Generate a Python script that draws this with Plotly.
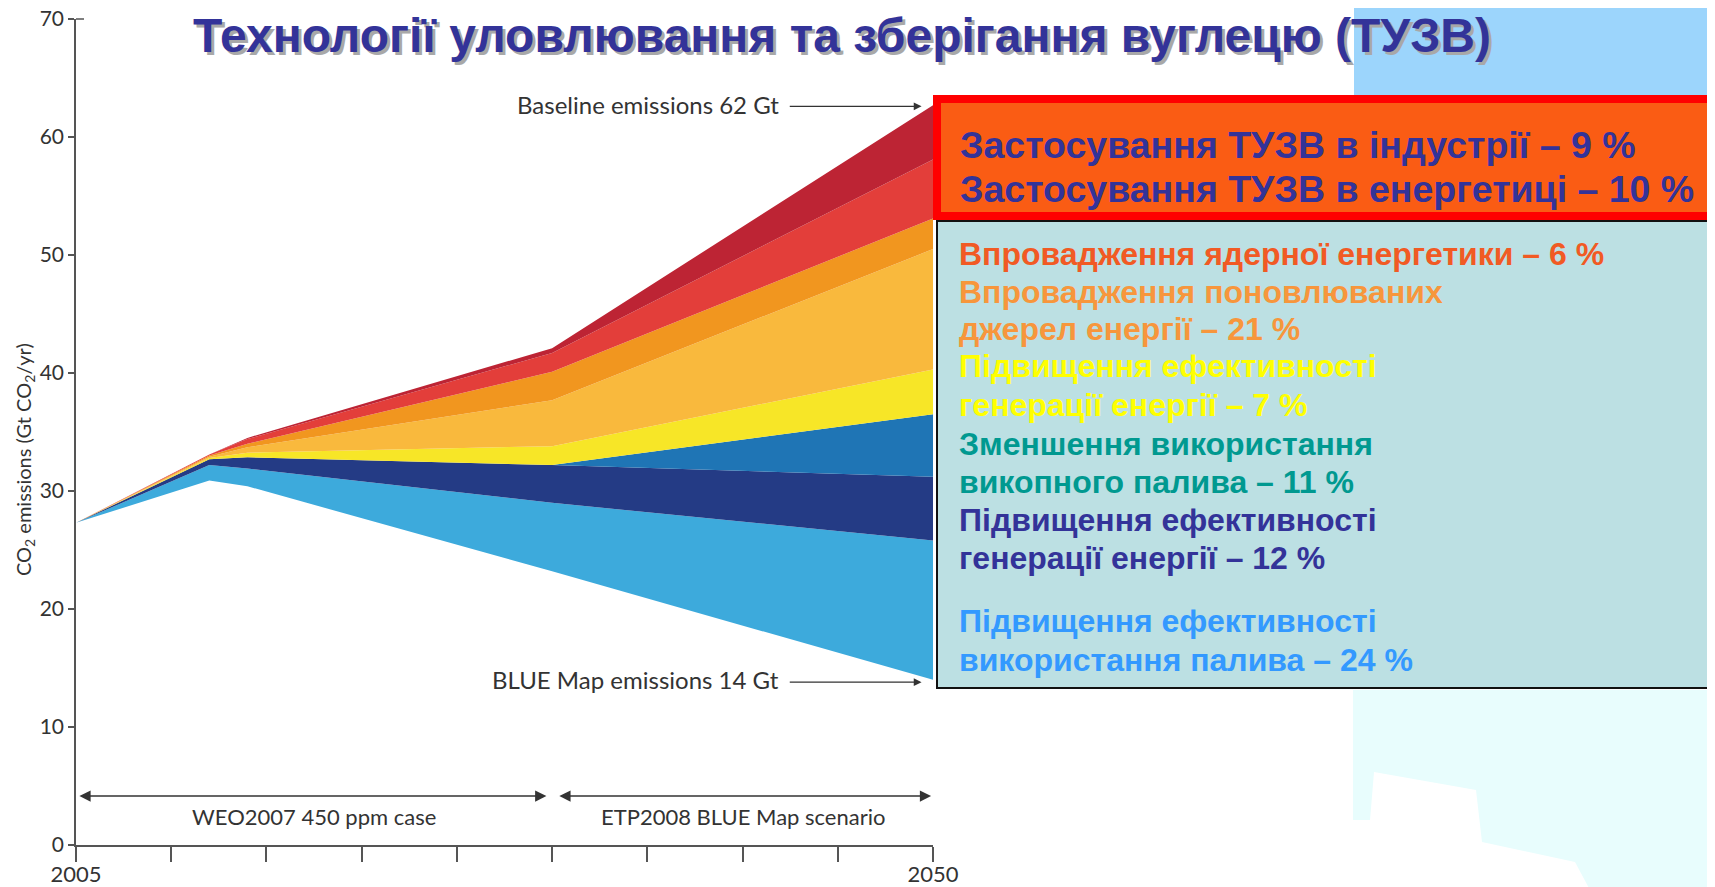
import plotly.graph_objects as go

# ---------------- data ----------------
years = [2005, 2012, 2014, 2030, 2050]
blue_map_emissions = [27.3, 30.9, 30.4, 23.2, 14.0]          # bottom line (Gt CO2/yr)
# wedge thicknesses (Gt CO2/yr), stacked from bottom to top
end_use_fuel_eff = [0.0, 1.3, 1.5, 5.8, 11.8]     # light blue 24 %
end_use_elec_eff = [0.0, 0.5, 0.95, 3.2, 5.4]     # navy 12 %
end_use_fuel_switch = [0.0, 0.0, 0.0, 0.0, 5.3]   # mid blue 11 %
power_gen_eff = [0.0, 0.1, 0.4, 1.6, 3.8]         # yellow 7 %
renewables = [0.0, 0.1, 0.45, 3.9, 10.2]          # light orange 21 %
nuclear = [0.0, 0.1, 0.3, 2.4, 2.6]               # orange 6 %
ccs_power = [0.0, 0.1, 0.4, 1.6, 5.0]             # red 10 %
ccs_industry = [0.0, 0.0, 0.1, 0.4, 4.6]          # dark red 9 %

wedge_names = ["Fuel efficiency", "Electricity efficiency", "Fuel switching",
               "Power generation efficiency", "Renewables", "Nuclear",
               "CCS power", "CCS industry"]
wedge_values = [end_use_fuel_eff, end_use_elec_eff, end_use_fuel_switch, power_gen_eff,
                renewables, nuclear, ccs_power, ccs_industry]
wedge_colors = ["#3DAADC", "#243B85", "#1F75B5", "#F7E627",
                "#F9B93D", "#F1961F", "#E33E3A", "#BD2434"]

x_tickvals = [2005, 2010, 2015, 2020, 2025, 2030, 2035, 2040, 2045, 2050]
x_ticktext = ["2005", "", "", "", "", "", "", "", "", "2050"]
y_tickvals = [0, 10, 20, 30, 40, 50, 60, 70]

title_text = "Технології уловлювання та зберігання вуглецю (ТУЗВ)"
ccs_lines = ["Застосування ТУЗВ в індустрії – 9 %",
             "Застосування ТУЗВ в енергетиці – 10 %"]
legend_lines = ["Впровадження ядерної енергетики – 6 %",
                "Впровадження поновлюваних",
                "джерел енергії – 21 %",
                "Підвищення ефективності",
                "генерації енергії – 7 %",
                "Зменшення використання",
                "викопного палива – 11 %",
                "Підвищення ефективності",
                "генерації енергії – 12 %",
                "Підвищення ефективності",
                "використання палива – 24 %"]
legend_colors = ["#F15A24", "#F7963C", "#F7963C", "#FFFF00", "#FFFF00",
                 "#009990", "#009990", "#333399", "#333399", "#3399FF", "#3399FF"]
legend_y_px = [254, 292, 329, 366, 405, 444, 482, 520, 558, 621, 660]

# ---------------- figure ----------------
# page has an 8px body margin: figure is drawn at (8, 8)
OFF = 8
W, H = 1715 - OFF, 887 - OFF
# plot area in page pixels
L, R, T, B = 76, 933, 19, 845


def px(x):
    return (x - L) / (R - L)


def py(y):
    return (B - y) / (B - T)


def path(points):
    s = " L ".join(f"{px(a)},{py(b)}" for a, b in points)
    return "M " + s + " Z"


fig = go.Figure()
fig.add_trace(go.Scatter(x=years, y=blue_map_emissions, stackgroup="s", mode="lines",
                         line=dict(width=0), fillcolor="rgba(0,0,0,0)",
                         hoverinfo="skip", showlegend=False))
for name, vals, col in zip(wedge_names, wedge_values, wedge_colors):
    fig.add_trace(go.Scatter(x=years, y=vals, stackgroup="s", mode="lines", name=name,
                             line=dict(width=0, color=col), fillcolor=col,
                             hoverinfo="skip", showlegend=False))

axis_font = dict(family="Lato, Roboto, sans-serif", size=22, color="#333333")
ytick_font = dict(family="Lato, Roboto, sans-serif", size=21, color="#333333")
label_font = dict(family="Lato, Roboto, sans-serif", size=24, color="#333333")

shapes = []
# light blue decoration at top-right
shapes.append(dict(type="rect", xref="paper", yref="paper", x0=px(1354), x1=px(1720),
                   y0=py(96), y1=py(0), fillcolor="#9CD5FC", line=dict(width=0), layer="below"))
# faint cyan decoration at bottom-right
shapes.append(dict(type="path", xref="paper", yref="paper",
                   path=path([(1353, 690), (1720, 690), (1720, 890), (1590, 890), (1575, 862),
                              (1482, 842), (1476, 790), (1374, 772), (1370, 820), (1353, 820)]),
                   fillcolor="#E8FDFD", line=dict(width=0), layer="below"))
# orange CCS box with red border
shapes.append(dict(type="rect", xref="paper", yref="paper", x0=px(933), x1=px(1720),
                   y0=py(220), y1=py(95), fillcolor="#FF0000", line=dict(width=0)))
shapes.append(dict(type="rect", xref="paper", yref="paper", x0=px(941), x1=px(1720),
                   y0=py(212), y1=py(103), fillcolor="#FA5C14", line=dict(width=0)))
# teal legend box
shapes.append(dict(type="rect", xref="paper", yref="paper", x0=px(937), x1=px(1722),
                   y0=py(688), y1=py(221), fillcolor="#BCE0E3",
                   line=dict(width=2, color="#111111")))
# small top tick on y axis
shapes.append(dict(type="line", xref="paper", yref="paper", x0=px(L), x1=px(L + 8),
                   y0=1, y1=1, line=dict(width=1.5, color="#555555")))

annotations = []
# title with shadow
for dx, dy, col in [(3, -3, "#A8A8A8"), (0, 0, "#333399")]:
    annotations.append(dict(text=f"<b>{title_text}</b>", xref="paper", yref="paper",
                            x=px(842), y=py(36), xanchor="center", yanchor="middle",
                            showarrow=False, xshift=dx, yshift=dy,
                            font=dict(family="Liberation Sans, Arial, sans-serif", size=48, color=col)))
# CCS box text
for line, ypx in zip(ccs_lines, [145, 189]):
    annotations.append(dict(text=f"<b>{line}</b>", xref="paper", yref="paper",
                            x=px(958), y=py(ypx), xanchor="left", yanchor="middle",
                            showarrow=False,
                            font=dict(family="Liberation Sans, Arial, sans-serif", size=37.5, color="#333399")))
# legend box text
for line, col, ypx in zip(legend_lines, legend_colors, legend_y_px):
    annotations.append(dict(text=f"<b>{line}</b>", xref="paper", yref="paper",
                            x=px(957), y=py(ypx), xanchor="left", yanchor="middle",
                            showarrow=False,
                            font=dict(family="Liberation Sans, Arial, sans-serif", size=32, color=col)))

# chart labels with arrows
annotations.append(dict(text="Baseline emissions 62 Gt", x=2042.0, y=62.75, xref="x", yref="y",
                        xanchor="right", yanchor="middle", showarrow=False, font=label_font))
annotations.append(dict(text="", x=2049.4, y=62.6, ax=2042.4, ay=62.6, xref="x", yref="y",
                        axref="x", ayref="y", showarrow=True, arrowhead=2, arrowsize=1.2,
                        arrowwidth=1.3, arrowcolor="#333333"))
annotations.append(dict(text="BLUE Map emissions 14 Gt", x=2042.0, y=14.0, xref="x", yref="y",
                        xanchor="right", yanchor="middle", showarrow=False, font=label_font))
annotations.append(dict(text="", x=2049.4, y=13.8, ax=2042.4, ay=13.8, xref="x", yref="y",
                        axref="x", ayref="y", showarrow=True, arrowhead=2, arrowsize=1.2,
                        arrowwidth=1.3, arrowcolor="#333333"))
# period arrows
annotations.append(dict(text="", x=2029.7, y=4.15, ax=2005.1, ay=4.15, xref="x", yref="y",
                        axref="x", ayref="y", showarrow=True, arrowhead=2, arrowsize=1.5,
                        arrowside="end+start", arrowwidth=1.5, arrowcolor="#333333"))
annotations.append(dict(text="", x=2049.9, y=4.15, ax=2030.3, ay=4.15, xref="x", yref="y",
                        axref="x", ayref="y", showarrow=True, arrowhead=2, arrowsize=1.5,
                        arrowside="end+start", arrowwidth=1.5, arrowcolor="#333333"))
annotations.append(dict(text="WEO2007 450 ppm case", x=2017.5, y=2.4, xref="x", yref="y",
                        xanchor="center", yanchor="middle", showarrow=False, font=axis_font))
annotations.append(dict(text="ETP2008 BLUE Map scenario", x=2040.0, y=2.4, xref="x", yref="y",
                        xanchor="center", yanchor="middle", showarrow=False, font=axis_font))
# y axis title
annotations.append(dict(text="CO<sub>2</sub> emissions (Gt CO<sub>2</sub>/yr)", xref="paper", yref="paper",
                        x=px(24), y=py(460), xanchor="center", yanchor="middle", textangle=-90,
                        showarrow=False, font=dict(family="Lato, Roboto, sans-serif", size=20, color="#333333")))

fig.update_layout(
    width=W, height=H,
    margin=dict(l=L - OFF, r=W - (R - OFF), t=T - OFF, b=H - (B - OFF), pad=0, autoexpand=False),
    paper_bgcolor="white", plot_bgcolor="white",
    showlegend=False,
    shapes=shapes, annotations=annotations,
    xaxis=dict(range=[2005, 2050], tickvals=x_tickvals, ticktext=x_ticktext,
               ticks="outside", ticklen=15, tickwidth=1.5, tickcolor="#555555",
               showline=True, linewidth=1.5, linecolor="#555555", showgrid=False,
               zeroline=False, tickfont=axis_font, fixedrange=True, automargin=False,
               ticklabeloverflow="allow", ticklabelstandoff=-6),
    yaxis=dict(range=[0, 70], tickvals=y_tickvals, ticks="outside", ticklen=6, tickwidth=1.5,
               tickcolor="#555555", showline=True, linewidth=1.5, linecolor="#555555",
               showgrid=False, zeroline=False, tickfont=ytick_font, fixedrange=True, automargin=False,
               ticklabeloverflow="allow"),
)

fig.write_html("out.html")
